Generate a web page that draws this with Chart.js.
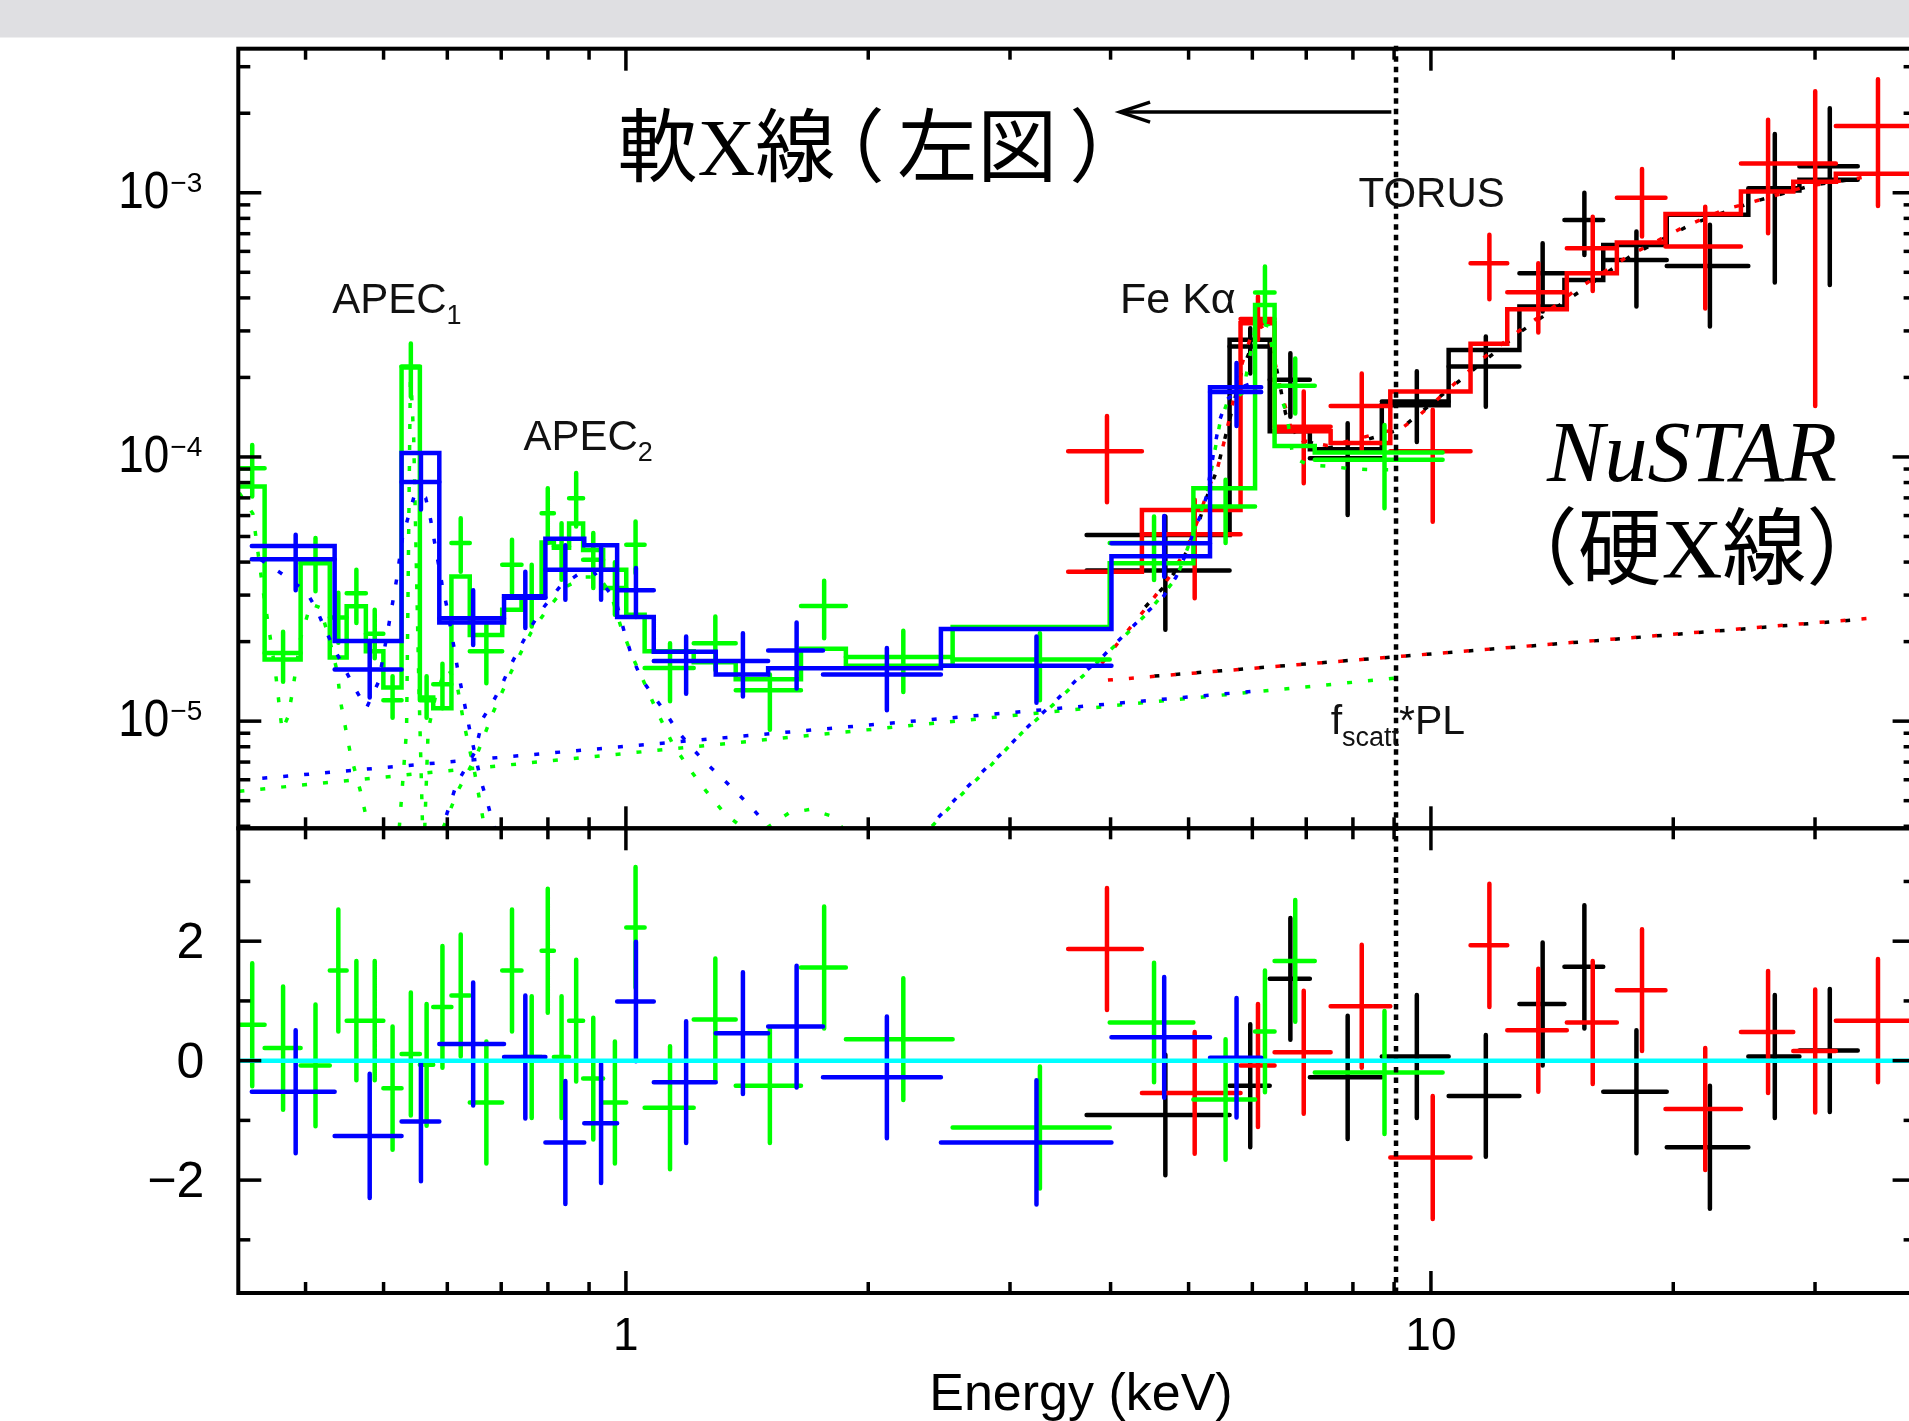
<!DOCTYPE html>
<html lang="ja">
<head>
<meta charset="utf-8">
<title>Broadband X-ray spectrum</title>
<script src="https://cdn.jsdelivr.net/npm/chart.js@4.4.1/dist/chart.umd.min.js"></script>
<style>
  html, body { margin: 0; padding: 0; background: #fff; overflow: hidden; }
  #wrap { position: relative; width: 1960px; height: 1421px; }
  #wrap canvas { position: absolute; left: 0; top: 0; }
</style>
</head>
<body>
<div id="wrap">
  <canvas id="spec" width="1960" height="1421"></canvas>
  <canvas id="resid" width="1960" height="1421"></canvas>
</div>
<script>
// energies in keV, unfolded flux per bin, residuals in sigma

// soft band, instrument 1 (green)
const greenEdges = [0.331, 0.3558, 0.3944, 0.4287, 0.4499, 0.4753, 0.4997, 0.5264, 0.5547, 0.5763, 0.6071,
  0.6398, 0.7020, 0.7419, 0.7857, 0.8138, 0.8500, 0.8848, 0.9370, 1.001, 1.055, 1.214, 1.369, 1.650, 1.876,
  2.546, 3.990, 5.069, 6.047, 6.394, 7.173, 10.34];
const greenFlux = [9.07e-5, 1.81e-5, 3.96e-5, 2.47e-5, 3.05e-5, 2.14e-5, 1.20e-5, 2.20e-4, 1.20e-5, 1.38e-5,
  4.72e-5, 1.84e-5, 3.91e-5, 2.96e-5, 6.12e-5, 4.58e-5, 6.98e-5, 4.08e-5, 3.19e-5, 4.65e-5, 1.59e-5, 1.97e-5,
  1.31e-5, 2.73e-5, 1.75e-5, 1.71e-5, 4.72e-5, 6.49e-5, 4.19e-4, 1.86e-4, 9.75e-5];
const greenHigh = [1.11e-4, 2.18e-5, 4.93e-5, 3.06e-5, 3.74e-5, 2.64e-5, 1.48e-5, 2.69e-4, 1.48e-5, 1.65e-5,
  5.86e-5, 2.35e-5, 4.86e-5, 3.91e-5, 7.62e-5, 5.61e-5, 8.69e-5, 5.15e-5, 3.99e-5, 5.70e-5, 1.97e-5, 2.49e-5,
  1.50e-5, 3.40e-5, 2.20e-5, 2.15e-5, 5.95e-5, 8.19e-5, 5.26e-4, 2.36e-4, 1.32e-4];
const greenLow = [7.08e-5, 1.41e-5, 3.10e-5, 1.98e-5, 2.35e-5, 1.73e-5, 1.03e-5, 1.69e-4, 1.03e-5, 1.12e-5,
  3.68e-5, 1.39e-5, 3.05e-5, 2.28e-5, 4.72e-5, 3.43e-5, 5.46e-5, 3.19e-5, 2.53e-5, 3.63e-5, 1.19e-5, 1.56e-5,
  9.27e-6, 2.06e-5, 1.29e-5, 1.20e-5, 3.42e-5, 4.72e-5, 3.25e-4, 1.46e-4, 6.40e-5];
const greenModel = [7.73e-5, 1.71e-5, 4.00e-5, 1.74e-5, 2.72e-5, 1.84e-5, 1.34e-5, 2.18e-4, 1.23e-5, 1.12e-5,
  3.53e-5, 2.12e-5, 2.64e-5, 2.93e-5, 4.74e-5, 4.53e-5, 5.60e-5, 4.44e-5, 3.74e-5, 2.53e-5, 1.84e-5, 1.67e-5,
  1.44e-5, 1.88e-5, 1.62e-5, 2.27e-5, 3.96e-5, 7.61e-5, 3.76e-4, 1.10e-4, 1.04e-4];
const greenResid = [0.60, 0.21, -0.08, 1.51, 0.67, 0.67, -0.46, 0.11, -0.07, 0.90, 1.09, -0.70, 1.51, 0.06,
  1.84, 0.06, 0.67, -0.30, -0.70, 2.23, -0.79, 0.69, -0.42, 1.56, 0.36, -1.12, 0.64, -0.65, 0.49, 1.67, -0.20];
const greenResidErr = [1.03, 1.03, 1.02, 1.02, 1.00, 1.00, 1.03, 1.03, 1.02, 1.02, 1.02, 1.02, 1.02, 1.02,
  1.04, 1.02, 1.02, 1.02, 1.02, 1.01, 1.03, 1.02, 0.96, 1.02, 1.02, 1.02, 1.00, 1.01, 1.02, 1.02, 1.03];

// soft band, instrument 2 (blue)
const blueEdges = [0.343, 0.4347, 0.5264, 0.5864, 0.7057, 0.7943, 0.8877, 0.9752, 1.083, 1.293, 1.502,
  1.757, 2.462, 4.010, 5.316, 6.154];
const blueFlux = [4.10e-5, 1.57e-5, 8.04e-5, 2.45e-5, 2.93e-5, 3.74e-5, 3.74e-5, 3.13e-5, 1.69e-5, 1.69e-5,
  1.85e-5, 1.50e-5, 1.62e-5, 4.71e-5, 1.76e-4];
const blueHigh = [5.08e-5, 2.01e-5, 1.017e-4, 3.13e-5, 3.68e-5, 4.63e-5, 4.55e-5, 3.80e-5, 2.09e-5, 2.15e-5,
  2.36e-5, 1.89e-5, 2.09e-5, 5.98e-5, 2.27e-4];
const blueLow = [3.13e-5, 1.23e-5, 6.32e-5, 1.94e-5, 2.25e-5, 2.88e-5, 2.88e-5, 2.48e-5, 1.27e-5, 1.24e-5,
  1.33e-5, 1.10e-5, 1.175e-5, 3.52e-5, 1.31e-4];
const blueModel = [4.60e-5, 2.01e-5, 1.034e-4, 2.36e-5, 2.97e-5, 4.90e-5, 4.63e-5, 2.48e-5, 1.83e-5, 1.50e-5,
  1.585e-5, 1.585e-5, 2.23e-5, 4.21e-5, 1.835e-4];
const blueResid = [-0.52, -1.26, -1.02, 0.28, 0.06, -1.37, -1.05, 0.99, -0.36, 0.46, 0.57, -0.28, -1.37, 0.39, 0.05];
const blueResidErr = [1.03, 1.04, 1.00, 1.03, 1.03, 1.03, 1.00, 1.00, 1.02, 1.02, 1.02, 1.02, 1.04, 1.01, 1.00];

// hard band, module A (black)
const blackEdges = [3.735, 5.622, 6.306, 7.073, 8.689, 10.52, 12.88, 14.65, 16.37, 19.63, 24.79, 28.69, 33.90];
const blackFlux = [3.72e-5, 2.62e-4, 1.96e-4, 9.89e-5, 1.62e-4, 2.20e-4, 4.96e-4, 7.89e-4, 5.57e-4, 5.28e-4,
  1.04e-3, 1.26e-3];
const blackHigh = [5.95e-5, 3.07e-4, 2.47e-4, 1.34e-4, 2.11e-4, 2.86e-4, 6.44e-4, 1.00e-3, 7.13e-4, 7.56e-4,
  1.67e-3, 2.09e-3];
const blackLow = [2.22e-5, 2.07e-4, 1.42e-4, 6.03e-5, 1.14e-4, 1.55e-4, 3.55e-4, 5.81e-4, 3.71e-4, 3.12e-4,
  4.57e-4, 4.48e-4];
const blackModel = [5.07e-5, 2.78e-4, 1.25e-4, 1.07e-4, 1.57e-4, 2.54e-4, 3.71e-4, 4.68e-4, 6.34e-4, 8.25e-4,
  1.02e-3, 1.12e-3];
const blackResid = [-0.91, -0.42, 1.37, -0.28, 0.07, -0.59, 0.95, 1.57, -0.52, -1.45, 0.07, 0.17];
const blackResidErr = [1.01, 1.03, 1.02, 1.03, 1.03, 1.02, 1.03, 1.03, 1.03, 1.03, 1.03, 1.03];

// hard band, module B (red)
const redEdges = [3.543, 4.375, 5.801, 6.394, 7.506, 8.903, 11.20, 12.44, 14.75, 17.02, 19.56, 24.27, 28.19,
  31.84, 40.0];
const redFlux = [1.05e-4, 5.10e-5, 3.33e-4, 1.30e-4, 1.56e-4, 1.05e-4, 5.41e-4, 4.20e-4, 6.17e-4, 9.58e-4,
  6.26e-4, 1.29e-3, 1.29e-3, 1.79e-3];
const redHigh = [1.43e-4, 6.88e-5, 4.05e-4, 1.77e-4, 2.07e-4, 1.51e-4, 6.93e-4, 5.41e-4, 8.12e-4, 1.23e-3,
  8.86e-4, 1.89e-3, 2.42e-3, 2.69e-3];
const redLow = [6.74e-5, 2.92e-5, 2.78e-4, 7.95e-5, 1.06e-4, 5.69e-5, 3.95e-4, 2.96e-4, 4.25e-4, 6.83e-4,
  3.65e-4, 7.02e-4, 1.56e-4, 8.92e-4];
const redModel = [3.68e-5, 6.30e-5, 3.21e-4, 1.25e-4, 1.13e-4, 1.77e-4, 2.68e-4, 3.62e-4, 4.96e-4, 6.48e-4,
  8.31e-4, 1.01e-3, 1.10e-3, 1.18e-3];
const redResid = [1.87, -0.54, -0.08, 0.14, 0.91, -1.62, 1.93, 0.51, 0.64, 1.18, -0.81, 0.48, 0.16, 0.67];
const redResidErr = [1.02, 1.02, 1.03, 1.03, 1.03, 1.03, 1.03, 1.03, 1.03, 1.02, 1.02, 1.02, 1.03, 1.03];

// model components, [keV, flux]; null breaks the curve
const greenPL = [[0.331, 5.43e-6], [9.06, 1.456e-5]];
const bluePL = [[0.343, 6.03e-6], [6.154, 1.305e-5]];
const redPL = [[3.97, 1.43e-5], [35.6, 2.46e-5]];
const blackPL = [[4.40, 1.47e-5], [33.9, 2.42e-5]];
const greenApec1 = [[0.331, 7.30e-5], [0.344, 6.10e-5], [0.354, 3.16e-5], [0.367, 1.535e-5], [0.374, 9.23e-6],
  [0.380, 1.03e-5], [0.385, 1.27e-5], [0.394, 2.04e-5], [0.406, 2.78e-5], [0.417, 2.69e-5], [0.429, 2.00e-5],
  [0.438, 1.535e-5], [0.442, 1.19e-5], [0.455, 7.46e-6], [0.468, 5.43e-6], [0.479, 3.95e-6], null,
  [0.523, 3.95e-6], [0.534, 9.23e-6], [0.538, 7.71e-5], [0.540, 2.13e-4], [0.545, 1.18e-4], [0.553, 1.41e-5],
  [0.559, 3.95e-6], null, [0.5625, 3.95e-6], [0.568, 9.23e-6], [0.581, 1.27e-5], [0.599, 1.60e-5],
  [0.616, 1.41e-5], [0.629, 9.83e-6], [0.649, 6.36e-6], [0.665, 4.21e-6]];
const blueApec1 = [[0.343, 4.30e-5], [0.372, 3.65e-5], [0.401, 3.09e-5], [0.413, 2.64e-5], [0.424, 2.19e-5],
  [0.435, 1.86e-5], [0.460, 1.34e-5], [0.476, 1.12e-5], [0.493, 1.41e-5], [0.508, 2.35e-5], [0.519, 3.44e-5],
  [0.528, 4.98e-5], [0.547, 7.30e-5], [0.564, 7.00e-5], [0.572, 5.79e-5], [0.578, 4.83e-5], [0.591, 3.30e-5],
  [0.599, 2.72e-5], [0.612, 1.88e-5], [0.618, 1.57e-5], [0.640, 9.2e-6], [0.660, 6.0e-6], [0.672, 5.0e-6],
  [0.681, 4.3e-6], [0.689, 3.86e-6]];
const greenApec2 = [[0.593, 3.95e-6], [0.618, 5.43e-6], [0.653, 7.46e-6], [0.684, 1.08e-5], [0.720, 1.535e-5],
  [0.762, 2.16e-5], [0.800, 2.67e-5], [0.843, 3.23e-5], [0.888, 3.51e-5], [0.926, 3.51e-5], [0.958, 3.03e-5],
  [0.986, 2.27e-5], [1.020, 1.74e-5], [1.056, 1.38e-5], [1.094, 1.08e-5], [1.141, 8.30e-6], [1.194, 6.71e-6],
  [1.258, 5.43e-6], [1.325, 4.49e-6], [1.396, 3.95e-6], null, [1.497, 3.95e-6], [1.594, 4.49e-6],
  [1.691, 4.63e-6], [1.794, 4.39e-6], [1.857, 3.95e-6]];
const blueApec2 = [[0.593, 4.04e-6], [0.616, 5.78e-6], [0.649, 7.62e-6], [0.665, 1.03e-5], [0.682, 1.165e-5],
  [0.701, 1.37e-5], [0.720, 1.64e-5], [0.741, 1.94e-5], [0.762, 2.27e-5], [0.786, 2.64e-5], [0.828, 3.23e-5],
  [0.872, 3.59e-5], [0.913, 3.66e-5], [0.955, 3.06e-5], [0.976, 2.72e-5], [0.996, 2.16e-5], [1.017, 1.76e-5],
  [1.046, 1.44e-5], [1.075, 1.28e-5], [1.117, 1.09e-5], [1.157, 9.23e-6], [1.202, 8.04e-6], [1.258, 6.93e-6],
  [1.316, 6.10e-6], [1.377, 5.32e-6], [1.440, 4.63e-6], [1.497, 4.04e-6]];
const blueTorus = [[2.395, 4.04e-6], [2.595, 5.26e-6], [2.831, 6.85e-6], [2.972, 7.87e-6], [3.099, 9.03e-6],
  [3.243, 1.03e-5], [3.393, 1.165e-5], [3.549, 1.34e-5], [3.701, 1.52e-5], [3.899, 1.74e-5], [4.066, 1.98e-5],
  [4.254, 2.27e-5], [4.436, 2.58e-5], [4.641, 2.93e-5], [4.823, 3.51e-5], [4.976, 4.39e-5], [5.063, 5.15e-5],
  [5.170, 5.97e-5], [5.261, 7.08e-5], [5.372, 1.04e-4], [5.466, 1.38e-4], [5.581, 1.65e-4], [5.820, 1.84e-4],
  [6.154, 1.96e-4]];
const greenTorus = [[2.40, 4.0e-6], [2.60, 5.2e-6], [2.84, 6.8e-6], [3.10, 9.0e-6], [3.40, 1.16e-5],
  [3.71, 1.50e-5], [4.07, 1.96e-5], [4.44, 2.56e-5], [4.83, 3.48e-5], [5.06, 5.10e-5], [5.26, 7.0e-5],
  [5.47, 1.35e-4], [5.58, 1.60e-4], [5.84, 1.75e-4], [6.069, 3.23e-4], [6.284, 3.13e-4], [6.484, 1.74e-4],
  [6.621, 1.46e-4], [6.737, 9.96e-5], [7.049, 9.32e-5], [7.427, 9.23e-5], [7.962, 9.03e-5], [8.537, 8.94e-5],
  [8.993, 8.94e-5]];
const redTorus = [[3.899, 1.65e-5], [4.181, 2.16e-5], [4.482, 2.81e-5], [4.757, 3.59e-5], [4.976, 4.53e-5],
  [5.152, 5.91e-5], [5.298, 7.71e-5], [5.429, 9.03e-5], [5.544, 1.165e-4], [5.681, 1.62e-4], [5.820, 2.23e-4],
  [5.984, 2.90e-4], [6.154, 3.13e-4], [6.328, 2.69e-4], [6.507, 1.80e-4], [6.690, 1.31e-4], [6.927, 1.153e-4],
  [7.427, 1.105e-4], [7.962, 1.153e-4], [8.689, 1.24e-4], [9.186, 1.28e-4], [9.678, 1.44e-4], [10.16, 1.64e-4],
  [10.67, 1.88e-4], [11.68, 2.40e-4], [12.92, 3.03e-4], [14.35, 3.78e-4], [15.01, 4.21e-4], [17.62, 5.78e-4],
  [20.68, 7.46e-4], [23.20, 8.66e-4], [24.79, 9.13e-4], [29.39, 1.06e-3], [33.67, 1.13e-3], [36.22, 1.18e-3]];
const blackTorus = [[4.328, 2.53e-5], [4.723, 3.37e-5], [5.063, 4.78e-5], [5.243, 6.78e-5], [5.429, 9.03e-5],
  [5.621, 1.38e-4], [5.820, 2.11e-4], [6.026, 2.75e-4], [6.240, 2.81e-4], [6.417, 2.23e-4], [6.598, 1.46e-4],
  [6.831, 1.18e-4], [7.427, 1.08e-4], [8.245, 1.153e-4], [9.152, 1.27e-4], [10.52, 1.80e-4], [12.97, 3.00e-4],
  [15.43, 4.30e-4], [17.73, 5.78e-4], [21.10, 7.62e-4], [25.11, 9.23e-4], [29.88, 1.07e-3], [33.79, 1.13e-3]];

// axes
const E_MIN = 0.33, E_MAX = 40;
const F_MIN = 3.93e-6, F_MAX = 3.51e-3;
const R_MIN = -3.89, R_MAX = 3.89;
const E_SPLIT = 9.05; // boundary between the two bands
const energyTicks = [0.4, 0.5, 0.6, 0.7, 0.8, 0.9, 1, 2, 3, 4, 5, 6, 7, 8, 9, 10, 20, 30];
const energyLabels = [1, 10];
const fluxLabels = [1e-5, 1e-4, 1e-3];
const residTicks = [-3, -2, -1, 0, 1, 2, 3];
const residLabels = [-2, 0, 2];

const SANS = '"Liberation Sans", Arial, Helvetica, sans-serif';
const SERIF_JP = '"Liberation Serif", "Times New Roman", "Noto Sans CJK JP", serif';

// ---- dataset builders ----
function crossPoints(edges, val, low, high) {
  const pts = [];
  for (let i = 0; i < val.length; i++) {
    const lo = edges[i], hi = edges[i + 1], mid = (lo + hi) / 2;
    pts.push({x: lo, y: val[i]}, {x: hi, y: val[i]}, {x: hi, y: null});
    pts.push({x: mid, y: low[i]}, {x: mid, y: high[i]}, {x: mid, y: null});
  }
  return pts;
}

function stepPoints(edges, model) {
  const pts = [];
  model.forEach((m, i) => pts.push({x: edges[i], y: m}, {x: edges[i + 1], y: m}));
  return pts;
}

function curvePoints(list) {
  let lastX = list[0][0];
  return list.map(p => {
    if (!p) return {x: lastX, y: null};
    lastX = p[0];
    return {x: p[0], y: p[1]};
  });
}

function solid(data, color, order, width = 4.5) {
  return {data, borderColor: color, borderWidth: width, pointRadius: 0, fill: false, tension: 0,
    order, borderCapStyle: 'round', borderJoinStyle: 'miter', spanGaps: false};
}

function dotted(list, color, order, offset) {
  return {data: curvePoints(list), borderColor: color, borderWidth: 3.5, pointRadius: 0, fill: false,
    tension: 0, order, borderDash: [5, 16], borderDashOffset: offset, borderCapStyle: 'butt', spanGaps: false};
}

function residCross(edges, r, err) {
  return crossPoints(edges, r, r.map((v, i) => v - err[i]), r.map((v, i) => v + err[i]));
}

// ---- drawing helpers ----
function seg(ctx, x0, y0, x1, y1) {
  ctx.beginPath();
  ctx.moveTo(x0, y0);
  ctx.lineTo(x1, y1);
  ctx.stroke();
}

function runText(ctx, x, y, parts, family = SANS) {
  for (const [text, size, dy] of parts) {
    ctx.font = size + 'px ' + family;
    ctx.fillText(text, x, y + dy);
    x += ctx.measureText(text).width;
  }
}

// same font throughout, each piece nudged by a fraction of the em (tightens full-width brackets)
function kernedText(ctx, x, y, em, parts) {
  for (const [text, shift] of parts) {
    x += shift * em;
    ctx.fillText(text, x, y);
    x += ctx.measureText(text).width;
  }
}

function drawEnergyTicks(chart) {
  const {ctx, chartArea: a, scales: {x}} = chart;
  for (const e of energyTicks) {
    const px = x.getPixelForValue(e);
    const len = energyLabels.includes(e) ? 22 : 11;
    seg(ctx, px, a.top, px, a.top + len);
    seg(ctx, px, a.bottom, px, a.bottom - len);
  }
}

function drawYTicks(chart, ticks) {
  const {ctx, chartArea: a, scales: {y}} = chart;
  for (const [v, major] of ticks) {
    const py = y.getPixelForValue(v);
    const len = major ? 23 : 12;
    seg(ctx, a.left, py, a.left + len, py);
    seg(ctx, a.right, py, a.right - len, py);
  }
}

const fluxTicks = [];
for (let n = -6; n <= -3; n++) {
  for (let k = 1; k <= 9; k++) {
    const v = k * Math.pow(10, n);
    if (v >= F_MIN && v <= F_MAX) fluxTicks.push([v, k === 1]);
  }
}

// top panel: frame, labels and notes
const specDecor = {
  id: 'specDecor',
  beforeDraw(chart) {
    const ctx = chart.ctx;
    ctx.save();
    ctx.fillStyle = '#dfdfe2';
    ctx.fillRect(0, 0, chart.width, 37.5);
    ctx.restore();
  },
  afterDraw(chart) {
    const {ctx, chartArea: a, scales: {x, y}} = chart;
    const at = (e, f) => [x.getPixelForValue(e), y.getPixelForValue(f)];
    ctx.save();
    ctx.strokeStyle = '#000';
    ctx.lineWidth = 3.5;
    drawEnergyTicks(chart);
    drawYTicks(chart, fluxTicks);
    ctx.lineWidth = 4;
    ctx.strokeRect(a.left, a.top, a.right - a.left, a.bottom - a.top);

    // decade labels
    ctx.fillStyle = '#000';
    ctx.textBaseline = 'alphabetic';
    for (const v of fluxLabels) {
      const py = y.getPixelForValue(v);
      const exp = String(Math.round(Math.log10(v))).replace('-', '\u2212');
      ctx.textAlign = 'left';
      ctx.font = '28px ' + SANS;
      ctx.fillText(exp, a.left - 68, py - 1);
      ctx.save();
      ctx.translate(a.left - 69, py + 15);
      ctx.scale(0.9, 1);
      ctx.textAlign = 'right';
      ctx.font = '51px ' + SANS;
      ctx.fillText('10', 0, 0);
      ctx.restore();
    }

    // component notes
    ctx.textAlign = 'left';
    ctx.fillStyle = '#111';
    let p = at(0.4317, 3.51e-4);
    runText(ctx, p[0], p[1], [['APEC', 42, 0], ['1', 27, 11]]);
    p = at(0.746, 1.059e-4);
    runText(ctx, p[0], p[1], [['APEC', 42, 0], ['2', 27, 11]]);
    p = at(4.11, 3.51e-4);
    runText(ctx, p[0], p[1], [['Fe K\u03b1', 43, 0]]);
    p = at(8.13, 8.84e-4);
    runText(ctx, p[0], p[1], [['TORUS', 42, 0]]);
    p = at(7.506, 8.94e-6);
    runText(ctx, p[0], p[1], [['f', 41, 0], ['scatt', 27, 12], ['*PL', 41, 0]]);

    // band captions
    ctx.fillStyle = '#000';
    p = at(0.976, 1.165e-3);
    ctx.font = '80px ' + SERIF_JP;
    kernedText(ctx, p[0], p[1], 80, [['軟X線', 0], ['（', -0.38], ['左図', 0.155], ['）', 0.15]]);
    ctx.textAlign = 'center';
    p = at(21.1, 8.12e-5);
    ctx.font = 'italic 86px "Liberation Serif", "Times New Roman", serif';
    ctx.fillText('NuSTAR', p[0], p[1]);
    p = at(21.1, 3.48e-5);
    ctx.font = '84px ' + SERIF_JP;
    ctx.fillText('（硬X線）', p[0], p[1]);

    // arrow pointing to the soft band
    const [xr, ya] = at(8.93, 2.02e-3);
    const [xl] = at(4.11, 2.02e-3);
    ctx.lineWidth = 3.5;
    seg(ctx, xr, ya, xl + 2, ya);
    ctx.beginPath();
    ctx.moveTo(xl + 30, ya - 10);
    ctx.lineTo(xl, ya);
    ctx.lineTo(xl + 30, ya + 10);
    ctx.stroke();
    ctx.restore();
  }
};

// bottom panel: frame and axis labels
const residDecor = {
  id: 'residDecor',
  afterDraw(chart) {
    const {ctx, chartArea: a, scales: {x, y}} = chart;
    ctx.save();
    ctx.strokeStyle = '#000';
    ctx.lineWidth = 3.5;
    drawEnergyTicks(chart);
    drawYTicks(chart, residTicks.map(v => [v, residLabels.includes(v)]));
    ctx.lineWidth = 4;
    ctx.strokeRect(a.left, a.top, a.right - a.left, a.bottom - a.top);

    ctx.fillStyle = '#000';
    ctx.textBaseline = 'alphabetic';
    ctx.textAlign = 'right';
    ctx.font = '50px ' + SANS;
    for (const v of residLabels) {
      ctx.fillText(String(v).replace('-', '\u2212'), a.left - 34, y.getPixelForValue(v) + 17);
    }
    ctx.textAlign = 'center';
    ctx.font = '46px ' + SANS;
    for (const e of energyLabels) {
      ctx.fillText(String(e), x.getPixelForValue(e), a.bottom + 57);
    }
    ctx.font = '52px ' + SANS;
    ctx.fillText('Energy (keV)', (a.left + a.right) / 2 + 4, a.bottom + 117);
    ctx.restore();
  }
};

function energyAxis() {
  return {type: 'logarithmic', min: E_MIN, max: E_MAX, bounds: 'data', display: false};
}

function baseOptions(yAxis, padding) {
  return {
    responsive: false,
    animation: false,
    devicePixelRatio: 1,
    events: [],
    layout: {padding},
    plugins: {legend: {display: false}, tooltip: {enabled: false}},
    scales: {x: energyAxis(), y: yAxis}
  };
}

const BLACK = '#000000', RED = '#ff0000', GREEN = '#00ff00', BLUE = '#0000ff', CYAN = '#00ffff';

new Chart(document.getElementById('spec'), {
  type: 'line',
  data: {
    datasets: [
      dotted(blackPL, BLACK, 40, 10.5),
      dotted(blackTorus, BLACK, 40, 10.5),
      solid(stepPoints(blackEdges, blackModel), BLACK, 38),
      solid(crossPoints(blackEdges, blackFlux, blackLow, blackHigh), BLACK, 37),
      dotted(redPL, RED, 30, 0),
      dotted(redTorus, RED, 30, 0),
      solid(stepPoints(redEdges, redModel), RED, 28),
      solid(crossPoints(redEdges, redFlux, redLow, redHigh), RED, 27),
      dotted(greenPL, GREEN, 20, 0),
      dotted(greenApec1, GREEN, 20, 0),
      dotted(greenApec2, GREEN, 20, 0),
      dotted(greenTorus, GREEN, 20, 0),
      solid(stepPoints(greenEdges, greenModel), GREEN, 18),
      solid(crossPoints(greenEdges, greenFlux, greenLow, greenHigh), GREEN, 17),
      dotted(bluePL, BLUE, 10, 10.5),
      dotted(blueApec1, BLUE, 10, 10.5),
      dotted(blueApec2, BLUE, 10, 10.5),
      dotted(blueTorus, BLUE, 10, 10.5),
      solid(stepPoints(blueEdges, blueModel), BLUE, 8),
      solid(crossPoints(blueEdges, blueFlux, blueLow, blueHigh), BLUE, 7),
      // band boundary, drawn a little past the top edge
      {data: [{x: E_SPLIT, y: F_MIN}, {x: E_SPLIT, y: 3.74e-3}], borderColor: BLACK, borderWidth: 4.5,
        borderDash: [5.5, 5], pointRadius: 0, order: 1, clip: false}
    ]
  },
  options: baseOptions({type: 'logarithmic', min: F_MIN, max: F_MAX, bounds: 'data', display: false},
    {left: 238.3, right: 44.4, top: 48.7, bottom: 592.7}),
  plugins: [specDecor]
});

new Chart(document.getElementById('resid'), {
  type: 'line',
  data: {
    datasets: [
      solid(residCross(blackEdges, blackResid, blackResidErr), BLACK, 37),
      solid(residCross(redEdges, redResid, redResidErr), RED, 27),
      solid(residCross(greenEdges, greenResid, greenResidErr), GREEN, 17),
      solid(residCross(blueEdges, blueResid, blueResidErr), BLUE, 7),
      solid([{x: E_MIN, y: 0}, {x: E_MAX, y: 0}], CYAN, 0),
      {data: [{x: E_SPLIT, y: R_MIN}, {x: E_SPLIT, y: R_MAX}], borderColor: BLACK, borderWidth: 4.5,
        borderDash: [5.5, 5], pointRadius: 0, order: 1}
    ]
  },
  options: baseOptions({type: 'linear', min: R_MIN, max: R_MAX, bounds: 'data', display: false},
    {left: 238.3, right: 44.4, top: 828.3, bottom: 128}),
  plugins: [residDecor]
});
</script>
</body>
</html>
